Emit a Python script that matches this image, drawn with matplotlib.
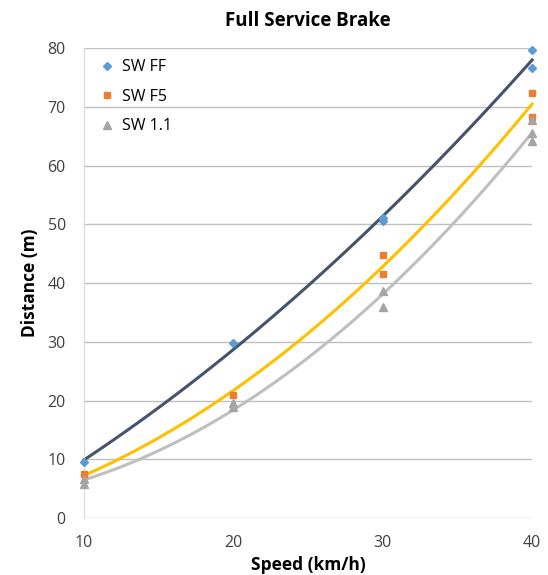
import numpy as np
import matplotlib
matplotlib.use("Agg")
import matplotlib.pyplot as plt

plt.rcParams['font.family'] = ['Open Sans', 'DejaVu Sans']

ff_x = [10, 20, 30, 30, 40, 40]
ff_y = [9.5, 29.8, 51.1, 50.5, 79.7, 76.6]
f5_x = [10, 20, 30, 30, 40, 40]
f5_y = [7.5, 20.9, 44.8, 41.6, 72.4, 68.3]
s11_x = [10, 10, 20, 20, 30, 30, 40, 40, 40]
s11_y = [6.6, 5.8, 19.6, 18.9, 38.6, 35.9, 67.7, 65.5, 64.2]

xticks = [10, 20, 30, 40]
yticks = [0, 10, 20, 30, 40, 50, 60, 70, 80]

fig = plt.figure(figsize=(5.48, 5.75), dpi=100)
ax = fig.add_axes([0.153, 0.099, 0.818, 0.8175])

series = [
    ("SW FF", ff_x, ff_y, "D", "#5B9BD5", "#44546A", 4.5),
    ("SW F5", f5_x, f5_y, "s", "#ED7D31", "#FFC000", 5),
    ("SW 1.1", s11_x, s11_y, "^", "#A5A5A5", "#BFBFBF", 5.5),
]
xs = np.linspace(10, 40, 200)
for name, x, y, m, mc, lc, ms in series:
    c = np.polyfit(x, y, 2)
    ax.plot(xs, np.polyval(c, xs), color=lc, lw=2.2, zorder=2, clip_on=False)
for name, x, y, m, mc, lc, ms in series:
    ax.plot(x, y, linestyle='none', marker=m, color=mc, ms=ms, label=name,
            zorder=3, clip_on=False)

ax.set_xlim(10, 40)
ax.set_ylim(0, 80)
ax.set_xticks(xticks)
ax.set_yticks(yticks)
ax.yaxis.grid(True, color="#BFBFBF", lw=1)
ax.set_axisbelow(True)
for s in ['top', 'right', 'bottom']:
    ax.spines[s].set_visible(False)
ax.spines['left'].set_color("#D9D9D9")
ax.tick_params(axis='both', length=0, labelsize=11.5, colors="#404040")
ax.tick_params(axis='y', pad=13)
ax.tick_params(axis='x', pad=12)

ax.set_title("Full Service Brake", fontsize=13.5, fontweight='bold', pad=16)
ax.set_xlabel("Speed (km/h)", fontsize=12.5, fontweight='bold', labelpad=4)
ax.set_ylabel("Distance (m)", fontsize=12.5, fontweight='bold', labelpad=6)

leg = ax.legend(loc='upper left', frameon=False, fontsize=11.5, handletextpad=0.2,
                labelspacing=0.85, bbox_to_anchor=(0.0, 1.0), handlelength=1.5,
                borderaxespad=0.3)

fig.savefig("out.png", dpi=100)
